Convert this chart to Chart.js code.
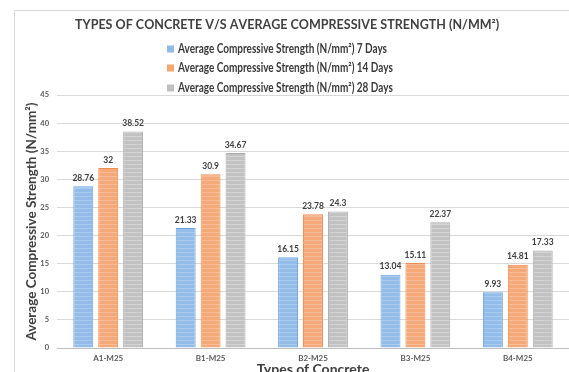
<!DOCTYPE html>
<html>
<head>
<meta charset="utf-8">
<script src="https://cdn.jsdelivr.net/npm/chart.js@4/dist/chart.umd.min.js"></script>
<style>
  html, body { margin: 0; padding: 0; background: #fff; overflow: hidden; }
  #wrap { width: 569px; height: 372px; overflow: hidden; }
  canvas { display: block; }
</style>
</head>
<body>
<div id="wrap"><canvas id="c" width="569" height="376" style="width:569px;height:376px"></canvas></div>
<script>
// Concrete mixes and their average compressive strength (N/mm²)
const categories = ['A1-M25', 'B1-M25', 'B2-M25', 'B3-M25', 'B4-M25'];
const days7  = [28.76, 21.33, 16.15, 13.04, 9.93];
const days14 = [32, 30.9, 23.78, 15.11, 14.81];
const days28 = [38.52, 34.67, 24.3, 22.37, 17.33];
const seriesLabels = [
  'Average Compressive Strength (N/mm\u00B2) 7 Days',
  'Average Compressive Strength (N/mm\u00B2) 14 Days',
  'Average Compressive Strength (N/mm\u00B2) 28 Days'
];
const yTicks = [0, 5, 10, 15, 20, 25, 30, 35, 40, 45];

const chartTitle = 'TYPES OF CONCRETE V/S AVERAGE COMPRESSIVE STRENGTH (N/MM\u00B2)';
const FONT = 'Lato, "Open Sans", sans-serif';

// Striped fill similar to a textured Excel bar
function stripes(base, light) {
  const c = document.createElement('canvas');
  c.width = 4; c.height = 4;
  const g = c.getContext('2d');
  g.fillStyle = base; g.fillRect(0, 0, 4, 4);
  g.fillStyle = light; g.fillRect(0, 0, 4, 1);
  return g.createPattern(c, 'repeat');
}

const swatch = ['#8fbbe6', '#f4a673', '#c0c0c0'];
const fills = [
  stripes('#93bde8', '#aacbee'),
  stripes('#f5a878', '#f8bd98'),
  stripes('#c2c2c2', '#d3d3d3')
];
const borders = ['#6fa3dc', '#ee8d50', '#ababab'];

// Letter-spaced text, drawn glyph by glyph so the spacing is exact
function spacedText(ctx, text, x, y, width) {
  const plain = ctx.measureText(text).width;
  const gap = (width - plain) / (text.length - 1);
  let cx = x;
  for (const ch of text) {
    ctx.fillText(ch, cx, y);
    cx += ctx.measureText(ch).width + gap;
  }
}

// Outer frame, title and stacked legend
const decor = {
  id: 'decor',
  beforeDraw(chart) {
    const ctx = chart.ctx;
    ctx.save();
    ctx.strokeStyle = '#d9d9d9';
    ctx.lineWidth = 1;
    ctx.strokeRect(14.5, 10.5, 700, 500);
    ctx.restore();
  },
  afterDraw(chart) {
    const ctx = chart.ctx;
    ctx.save();
    ctx.textBaseline = 'middle';
    ctx.textAlign = 'left';
    // title
    ctx.font = 'bold 12.5px ' + FONT;
    ctx.fillStyle = '#404040';
    spacedText(ctx, chartTitle, 75, 25, 422);
    // legend, one series per row; text narrowed to a condensed width
    ctx.font = 'bold 12.5px ' + FONT;
    const rows = [49, 68, 88];
    const x0 = 167;
    const sx = 209 / ctx.measureText(chart.data.datasets[0].label).width;
    chart.data.datasets.forEach((ds, i) => {
      ctx.fillStyle = swatch[i];
      ctx.fillRect(x0, rows[i] - 3.5, 7, 7);
      ctx.fillStyle = '#3a3a3a';
      ctx.save();
      ctx.translate(x0 + 11, rows[i]);
      ctx.scale(sx, 1);
      ctx.fillText(ds.label, 0, 0);
      ctx.restore();
    });
    ctx.restore();
  }
};

// Value labels above each bar
const valueLabels = {
  id: 'valueLabels',
  afterDatasetsDraw(chart) {
    const ctx = chart.ctx;
    ctx.save();
    ctx.font = 'bold 8.5px ' + FONT;
    ctx.fillStyle = '#404040';
    ctx.textAlign = 'center';
    ctx.textBaseline = 'middle';
    chart.data.datasets.forEach((ds, i) => {
      chart.getDatasetMeta(i).data.forEach((bar, j) => {
        ctx.fillText(String(ds.data[j]), bar.x, bar.y - 8);
      });
    });
    ctx.restore();
  }
};

const data = {
  labels: categories,
  datasets: [days7, days14, days28].map((vals, i) => ({
    label: seriesLabels[i],
    data: vals,
    backgroundColor: fills[i],
    borderColor: borders[i],
    borderWidth: 1,
    categoryPercentage: 0.73,
    barPercentage: 0.8
  }))
};

new Chart(document.getElementById('c'), {
  type: 'bar',
  data,
  options: {
    responsive: false,
    animation: false,
    layout: { padding: { top: 95, left: 20, right: 0, bottom: 0 } },
    plugins: {
      legend: { display: false },
      title: { display: false },
      tooltip: { enabled: false }
    },
    scales: {
      x: {
        afterFit(scale) { scale.height = 28; },
        grid: { display: false, drawTicks: false },
        border: { color: '#bfbfbf' },
        ticks: { color: '#595959', font: { family: FONT, size: 8, weight: 'bold' }, padding: 6 },
        title: {
          display: true, text: 'Types of Concrete', color: '#404040',
          font: { family: FONT, size: 14, weight: 'bold', lineHeight: 1 }, padding: { top: 0, bottom: 0 }
        }
      },
      y: {
        min: 0, max: 45,
        afterFit(scale) { scale.width = 37; },
        afterBuildTicks(scale) { scale.ticks = yTicks.map(v => ({ value: v })); },
        grid: { color: '#d9d9d9', drawTicks: false },
        border: { display: false },
        ticks: { color: '#595959', font: { family: FONT, size: 7.5, weight: 'bold' }, padding: 8 },
        title: {
          display: true, text: 'Average Compressive Strength (N/mm\u00B2)', color: '#404040',
          font: { family: FONT, size: 13.5, weight: 'bold', lineHeight: 1.1 }, padding: { top: 4, bottom: 0 }
        }
      }
    }
  },
  plugins: [decor, valueLabels]
});
</script>
</body>
</html>
